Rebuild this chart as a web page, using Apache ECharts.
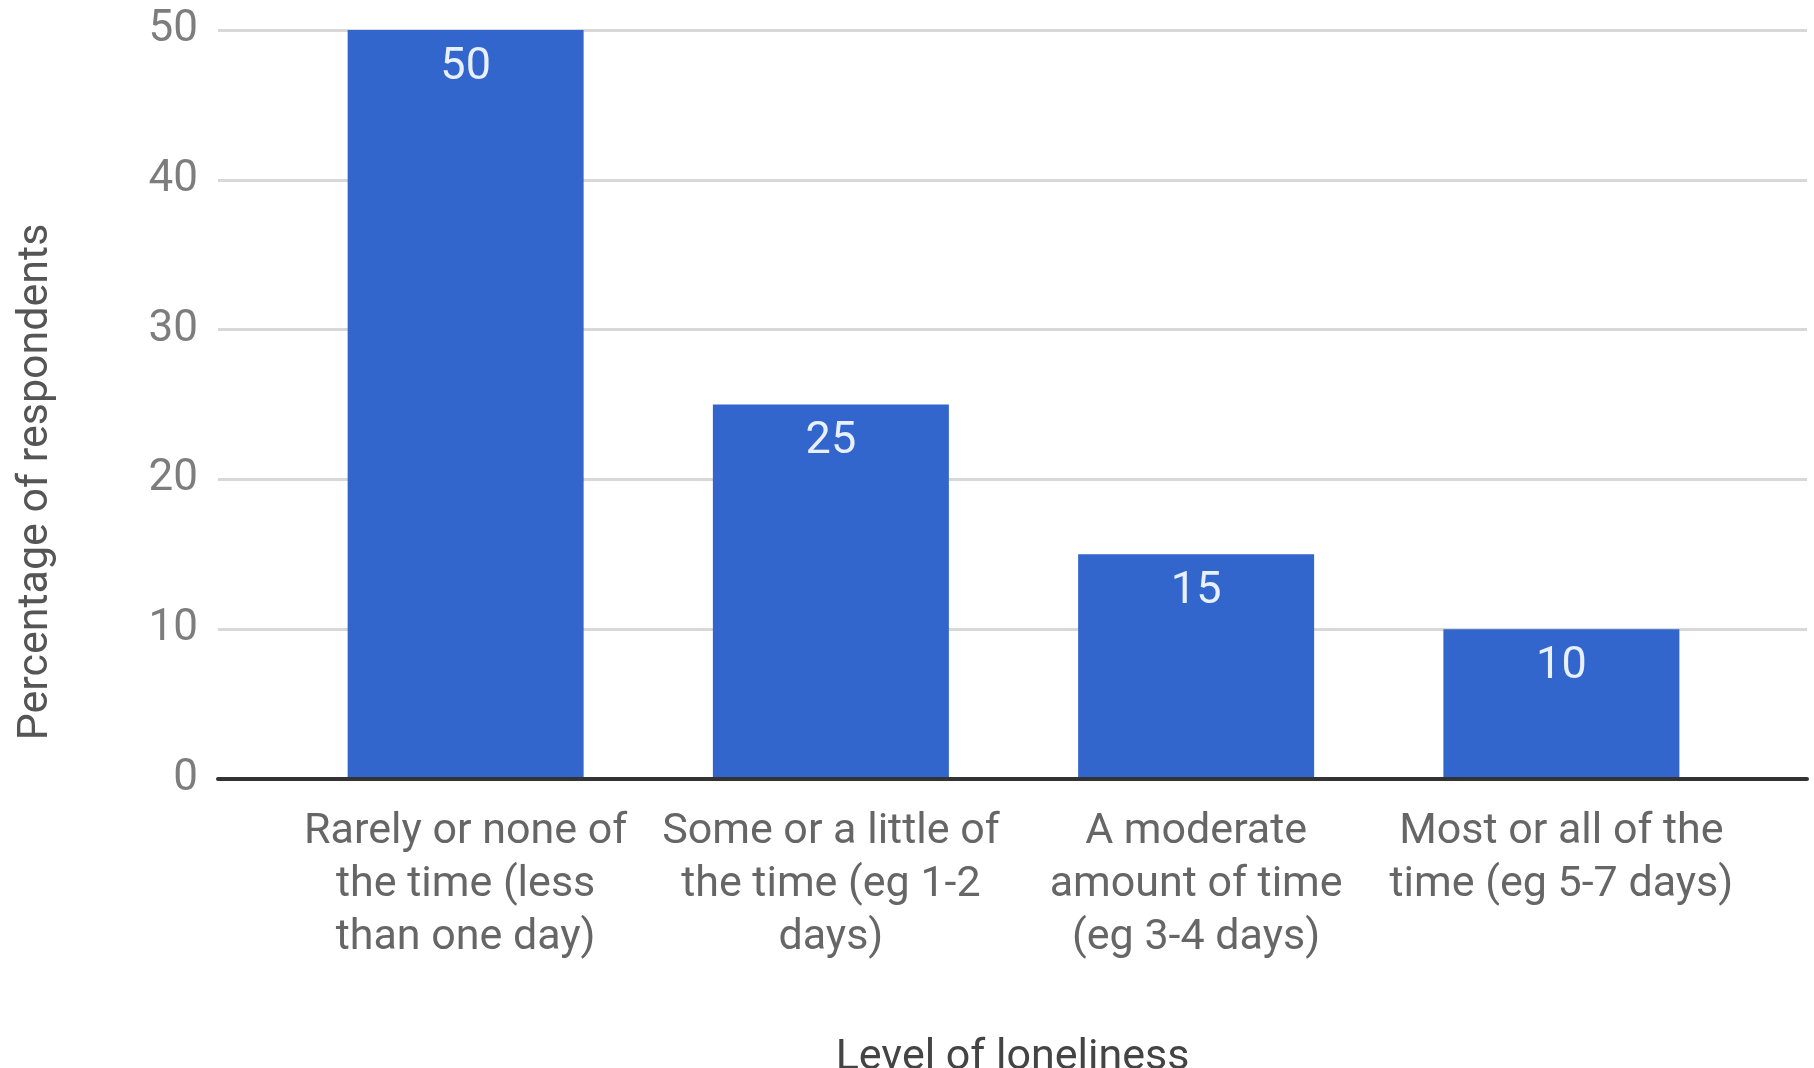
<!DOCTYPE html>
<html>
<head>
<meta charset="utf-8">
<title>Level of loneliness</title>
<script src="https://cdn.jsdelivr.net/npm/echarts@6/dist/echarts.min.js"></script>
<style>
  html, body { margin: 0; padding: 0; background: #ffffff; }
  #chart { width: 1814px; height: 1068px; }
</style>
</head>
<body>
<div id="chart"></div>
<script>
// Share of respondents by how often they felt lonely
const categories = [
  'Rarely or none of\nthe time (less\nthan one day)',
  'Some or a little of\nthe time (eg 1-2\ndays)',
  'A moderate\namount of time\n(eg 3-4 days)',
  'Most or all of the\ntime (eg 5-7 days)'
];
const percentages = [50, 25, 15, 10];
const yTicks = [0, 10, 20, 30, 40, 50];

const yMin = yTicks[0];
const yMax = yTicks[yTicks.length - 1];
const yStep = yTicks[1] - yTicks[0];

const FONT = 'Roboto, "Noto Sans", Arial, sans-serif';

const chart = echarts.init(document.getElementById('chart'), null, { renderer: 'canvas' });

chart.setOption({
  animation: false,
  backgroundColor: '#ffffff',
  grid: [
    // full-width frame: gridlines, tick labels, baseline
    { left: 218, right: 7, top: 30, bottom: 289, outerBoundsMode: 'none', containLabel: false },
    // inner band holding the bars
    { left: 283, right: 70, top: 30, bottom: 289, outerBoundsMode: 'none', containLabel: false }
  ],
  xAxis: [
    {
      type: 'category',
      gridIndex: 0,
      data: [''],
      z: 10,
      axisLine: { show: true, lineStyle: { color: '#333333', width: 4 } },
      axisTick: { show: false },
      axisLabel: { show: false },
      splitLine: { show: false },
      name: 'Level of loneliness',
      nameLocation: 'middle',
      nameGap: 258,
      nameTextStyle: { fontFamily: FONT, fontSize: 43, color: '#444444' }
    },
    {
      type: 'category',
      gridIndex: 1,
      data: categories,
      axisLine: { show: false },
      axisTick: { show: false },
      splitLine: { show: false },
      axisLabel: {
        interval: 0,
        margin: 27,
        fontFamily: FONT,
        fontSize: 43,
        lineHeight: 53,
        color: '#666666',
        align: 'center'
      }
    }
  ],
  yAxis: [
    {
      type: 'value',
      gridIndex: 0,
      min: yMin,
      max: yMax,
      interval: yStep,
      axisLine: { show: false },
      axisTick: { show: false },
      axisLabel: {
        margin: 20,
        fontFamily: FONT,
        fontSize: 44,
        color: '#7d7d7d'
      },
      splitLine: { show: true, lineStyle: { color: '#d8d8d8', width: 3 } }
    },
    {
      type: 'value',
      gridIndex: 1,
      min: yMin,
      max: yMax,
      interval: yStep,
      show: false,
      splitLine: { show: false }
    }
  ],
  graphic: [
    {
      type: 'text',
      x: 36,
      y: 482,
      rotation: Math.PI / 2,
      style: {
        text: 'Percentage of respondents',
        fontFamily: FONT,
        fontSize: 43,
        fill: '#555555',
        align: 'center',
        verticalAlign: 'middle'
      }
    }
  ],
  series: [
    {
      type: 'bar',
      xAxisIndex: 1,
      yAxisIndex: 1,
      data: percentages,
      barWidth: 236,
      z: 3,
      itemStyle: { color: '#3366cc' },
      label: {
        show: true,
        position: 'insideTop',
        distance: 15,
        fontFamily: FONT,
        fontSize: 45,
        color: '#e8f0ff'
      }
    }
  ]
});
</script>
</body>
</html>
